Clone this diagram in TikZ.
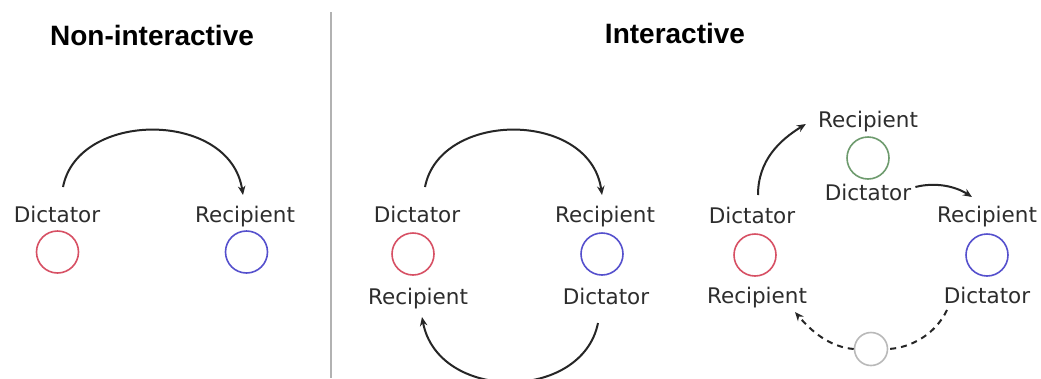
\documentclass[tikz,border=0pt]{standalone}
\usepackage{fontspec}
\usetikzlibrary{arrows.meta,calc}
\newfontfamily\labfont{DejaVu Sans}
\newfontfamily\titfont{Liberation Sans}
\definecolor{cred}{RGB}{215,80,100}
\definecolor{cblue}{RGB}{85,80,205}
\definecolor{cgreen}{RGB}{110,155,110}
\definecolor{cgray}{RGB}{185,185,185}
\definecolor{ctext}{RGB}{45,45,45}
\begin{document}
\begin{tikzpicture}[x=1pt,y=-1pt,
  lab/.style={anchor=base,inner sep=0pt,text=ctext,font=\labfont\fontsize{21.5}{24}\selectfont},
  title/.style={inner sep=0pt,font=\titfont\bfseries\fontsize{28}{32}\selectfont},
  role/.style={circle,draw=#1,line width=1.6pt,minimum size=42pt,inner sep=0pt},
  flow/.style={line width=2pt,draw=black!85,-{Stealth[length=9pt,width=7.5pt]}},
  dflow/.style={flow,dash pattern=on 6pt off 5pt},
  plain/.style={line width=2pt,draw=black!85,dash pattern=on 6pt off 5pt}]
\path[clip] (0,0) rectangle (1041,378);
\fill[white] (0,0) rectangle (1041,378);

% titles and separator
\node[title] (t1) at (152,35) {Non-interactive};
\node[title] (t2) at (675,33) {Interactive};
\coordinate (septop) at (331,12);
\coordinate (sepbot) at (331,378);
\draw[line width=1.4pt,draw=black!30] (septop) -- (sepbot);

% panel 1
\node[lab] (d1) at (57,222) {Dictator};
\node[lab] (r1) at (245,222) {Recipient};
\node[role=cred] (c1r) at (57.5,252) {};
\node[role=cblue] (c1b) at (246.5,252) {};
\draw[flow] ($(d1.base)+(6,-35)$) .. controls (78,110) and (230,110) .. ($(r1.base)+(-2,-27)$);

% panel 2
\node[lab] (d2) at (417,222) {Dictator};
\node[lab] (r2) at (605,222) {Recipient};
\node[lab] (r2b) at (418,304) {Recipient};
\node[lab] (d2b) at (606,304) {Dictator};
\node[role=cred] (c2r) at (413,254) {};
\node[role=cblue] (c2b) at (602,254) {};
\draw[flow] ($(d2.base)+(8,-35)$) .. controls (440,110) and (590,110) .. ($(r2.base)+(-3,-27)$);
\draw[flow] ($(d2b.base)+(-8,19)$) .. controls (582,402) and (438,402) .. ($(r2b.base)+(4,13)$);

% panel 3
\node[lab] (r3t) at (868,127) {Recipient};
\node[role=cgreen] (c3g) at (868,158) {};
\node[lab] (d3t) at (868,200) {Dictator};
\node[lab] (d3) at (752,223) {Dictator};
\node[role=cred] (c3r) at (755,255) {};
\node[lab] (r3b) at (757,303) {Recipient};
\node[lab] (r3) at (987,222) {Recipient};
\node[role=cblue] (c3b) at (987,255) {};
\node[lab] (d3b) at (987,303) {Dictator};
\node[circle,draw=cgray,line width=1.6pt,minimum size=33pt,inner sep=0pt] (c3x) at (871,349) {};

\draw[flow] ($(d3.base)+(6,-28)$) .. controls (758,160) and (780,140) .. ($(r3t.base west)+(-12,-3)$);
\draw[flow] ($(d3t.base east)+(4,-13)$) .. controls (935,182) and (955,186) .. ($(r3.base)+(-15,-25)$);
\draw[plain] ($(d3b.base)+(-40,7)$) .. controls (935,335) and (910,348) .. (c3x.east);
\draw[dflow] (c3x.west) .. controls (830,347) and (812,332) .. ($(r3b.base)+(38,9)$);
\end{tikzpicture}
\end{document}
